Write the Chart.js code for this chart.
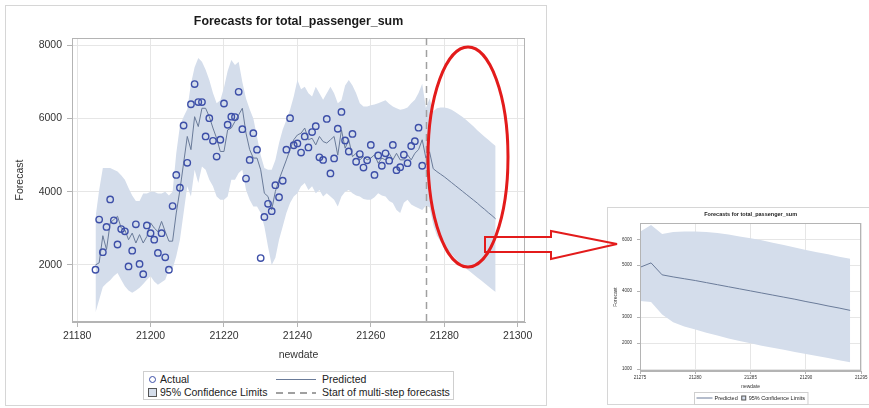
<!DOCTYPE html>
<html>
<head>
<meta charset="utf-8">
<script src="https://cdn.jsdelivr.net/npm/chart.js@4.4.1/dist/chart.umd.min.js"></script>
<style>
  body { margin: 0; background: #fff; width: 869px; height: 408px; position: relative; overflow: hidden; font-family: "Liberation Sans", Arial, sans-serif; }
  .panel { position: absolute; border: 1px solid #d6d6d6; box-sizing: border-box; }
  canvas { position: absolute; }
  .legend { position: absolute; border: 1px solid #cfcfcf; box-sizing: border-box; background: #fff; }
  .legend span { position: absolute; white-space: nowrap; }
  .lt { color: #222; font-size: 10.5px; line-height: 13px; }
  .sym-circle { border-radius: 50%; box-sizing: border-box; border: 1.4px solid #3d4fa8; }
  .sym-square { box-sizing: border-box; border: 1px solid #555; background: #d4ddeb; }
  .sym-line { height: 1px; background: #6a7b99; }
  .sym-dash { height: 1.5px; background: repeating-linear-gradient(to right, #a0a0a0 0 7px, transparent 7px 12px); }
</style>
</head>
<body>
<div class="panel" style="left:5px;top:5px;width:542px;height:401px;"></div>
<div class="panel" style="left:607px;top:207px;width:263px;height:198px;"></div>

<canvas id="mainChart" width="542" height="401" style="left:5px;top:5px;"></canvas>
<canvas id="zoomChart" width="262" height="198" style="left:607px;top:207px;"></canvas>

<div class="legend" style="left:143px;top:371px;width:311px;height:29px;">
  <span class="sym-circle" style="left:5px;top:4px;width:7px;height:7px;"></span>
  <span class="lt" style="left:16px;top:1px;">Actual</span>
  <span class="sym-line" style="left:132px;top:7px;width:40px;"></span>
  <span class="lt" style="left:178px;top:1px;">Predicted</span>
  <span class="sym-square" style="left:4px;top:16px;width:9px;height:9px;"></span>
  <span class="lt" style="left:16px;top:14px;">95% Confidence Limits</span>
  <span class="sym-dash" style="left:132px;top:20px;width:40px;"></span>
  <span class="lt" style="left:178px;top:14px;">Start of multi-step forecasts</span>
</div>

<svg width="869" height="408" style="position:absolute;left:0;top:0;pointer-events:none;">
  <ellipse cx="468" cy="157" rx="40" ry="110" fill="none" stroke="#e31b1b" stroke-width="3"/>
  <polygon points="485,237 551,237 551,231 617,244 551,259 551,252 485,252" fill="none" stroke="#e31b1b" stroke-width="2" stroke-linejoin="miter"/>
</svg>

<script>
// days 21185 .. 21294, forecasts start at 21275
const firstDay = 21185;
const lastDay = 21294;
const forecastStart = 21275;
const days = Array.from({ length: lastDay - firstDay + 1 }, (_, i) => firstDay + i);

// actual values, 21185 .. 21274
const actual = [
  1870, 3240, 2350, 3040, 3790, 3220, 2560, 2980, 2920, 1960,
  2390, 3110, 2030, 1750, 3080, 2870, 2690, 2330, 2870, 2210,
  1870, 3610, 4460, 4110, 5810, 4790, 6390, 6940, 6450, 6450,
  5510, 6010, 5390, 4960, 5420, 6410, 5830, 6050, 6040, 6730,
  5710, 4360, 4870, 5600, 5150, 2190, 3310, 3670, 3470, 4180,
  3850, 4300, 5150, 6010, 5270, 5320, 5070, 5510, 5210, 5630,
  5790, 4940, 4870, 5990, 4500, 4910, 5720, 6180, 5400, 5100,
  5580, 4820, 5030, 4660, 4860, 5280, 4460, 4990, 4710, 5050,
  4850, 5280, 4590, 4670, 5010, 4780, 5250, 5380, 5750, 4710
];

// predicted, 21185 .. 21294
const predicted = [
  2000, 2060, 2800, 2420, 3150, 3240, 3330, 3010, 2960, 2690,
  2870, 2600, 2830, 2600, 2780, 3150, 3010, 2910, 3190, 2910,
  2650, 2650, 3420, 4050, 4780, 5510, 5150, 6050, 5780, 6280,
  6280, 6050, 5740, 5460, 5100, 5100, 5690, 5740, 5920, 6100,
  6280, 5600, 5150, 4920, 4920, 4600, 3960, 3870, 3510, 4010,
  4330, 4600, 4870, 5150, 5420, 5550, 5600, 5740, 5420, 5460,
  5280, 5510, 5370, 5330, 5420, 5510, 5000, 5690, 5190, 5420,
  4960, 5050, 4870, 4960, 4870, 4920, 5010, 4780, 4920, 4870,
  5050, 4870, 5050, 4870, 4870, 5010, 4870, 5050, 5150, 5420,
  4920, 5090, 4630, 4550, 4480, 4410, 4330, 4250, 4170, 4090,
  4010, 3930, 3850, 3770, 3690, 3600, 3520, 3430, 3350, 3260
];

// 95% confidence limits, 21185 .. 21294
const upper = [
  3300, 4050, 4650, 4650, 4650, 4600, 4550, 4450, 4330, 4100,
  3900, 3750, 3750, 3950, 3950, 4000, 4000, 3950, 3950, 4000,
  3900, 4000, 5050, 5800, 6050, 6250, 6950, 7400, 7650, 7550,
  7330, 7050, 6700, 6420, 6500, 6850, 7300, 7600, 7460, 7550,
  7000, 6550, 6250, 6000, 5500, 5000, 4650, 4600, 4600, 4870,
  5330, 5700, 5960, 6240, 6600, 7050, 6800, 6870, 6690, 6600,
  6870, 6690, 6510, 6690, 6870, 6690, 6420, 6500, 6900, 7050,
  6900, 6690, 6420, 6330, 6330, 6360, 6380, 6420, 6460, 6500,
  6400, 6330, 6280, 6240, 6260, 6300, 6420, 6510, 6700, 6950,
  6290, 6550, 6200, 6280, 6300, 6300, 6280, 6240, 6180, 6110,
  6040, 5960, 5870, 5780, 5680, 5590, 5500, 5420, 5330, 5250
];
const lower = [
  700, 1050, 1400, 1500, 1580, 1700, 1780, 1600, 1420, 1300,
  1240, 1300, 1380, 1480, 1600, 1690, 1550, 1460, 1530, 1600,
  1870, 1900, 2240, 2690, 3420, 4150, 3870, 4600, 4240, 4690,
  4600, 4330, 4150, 3870, 3780, 3780, 3870, 4330, 4330, 4510,
  4600, 4050, 3780, 3600, 3600, 3420, 3050, 2500, 2000, 2200,
  2690, 3050, 3420, 3690, 3870, 3960, 4150, 4240, 4050, 4150,
  3960, 4050, 3870, 3960, 3870, 3780, 3600, 3870, 4000, 4050,
  3960, 3900, 3870, 3800, 3780, 3780, 3850, 3960, 3900, 3870,
  3750, 3690, 3500, 3420, 3700, 3780, 3650, 3600, 3550, 3500,
  3620, 3580, 3100, 2800, 2640, 2520, 2400, 2290, 2180, 2080,
  1990, 1900, 1820, 1740, 1660, 1580, 1500, 1420, 1340, 1260
];

// tick labels
const mainXTicks = [21180, 21200, 21220, 21240, 21260, 21280, 21300];
const mainYTicks = [2000, 4000, 6000, 8000];
const zoomXTicks = [21275, 21280, 21285, 21290, 21295];
const zoomYTicks = [1000, 2000, 3000, 4000, 5000, 6000];

const chartTitle = 'Forecasts for total_passenger_sum';
const xTitle = 'newdate';
const yTitle = 'Forecast';

const pointColor = '#3d4fa8';
const lineColor = '#6a7b99';
const bandColor = '#d4ddeb';
const gridColor = '#e6e6e6';
const frameColor = '#b4b4b4';
const textColor = '#333';
const family = '"Liberation Sans", Arial, sans-serif';

const toPts = (xs, ys) => ys.map((y, i) => ({ x: xs[i], y: y }));
const fcIdx = days.indexOf(forecastStart);

const framePlugin = {
    id: 'frame',
    afterDatasetsDraw(chart) {
        const a = chart.chartArea, c = chart.ctx;
        c.save();
        c.strokeStyle = frameColor;
        c.lineWidth = 1;
        c.strokeRect(Math.round(a.left) + 0.5, Math.round(a.top) + 0.5,
            Math.round(a.right - a.left) - 1, Math.round(a.bottom - a.top) - 1);
        c.restore();
    }
};

const titlePlugin = {
    id: 'areaTitle',
    afterDraw(chart, args, opts) {
        const a = chart.chartArea, c = chart.ctx;
        c.save();
        c.font = opts.font;
        c.fillStyle = '#1a1a1a';
        c.textAlign = 'center';
        c.textBaseline = 'middle';
        c.fillText(opts.text, (a.left + a.right) / 2, opts.y);
        c.restore();
    }
};

const startLinePlugin = {
    id: 'startLine',
    afterDatasetsDraw(chart, args, opts) {
        const a = chart.chartArea, c = chart.ctx;
        const x = Math.round(chart.scales.x.getPixelForValue(opts.value)) + 0.5;
        c.save();
        c.strokeStyle = '#a0a0a0';
        c.lineWidth = 1.5;
        c.setLineDash([7, 5]);
        c.beginPath();
        c.moveTo(x, a.top);
        c.lineTo(x, a.bottom);
        c.stroke();
        c.restore();
    }
};

// small boxed legend under the zoomed chart
const smallLegendPlugin = {
    id: 'smallLegend',
    afterDraw(chart, args, opts) {
        const a = chart.chartArea, c = chart.ctx;
        c.save();
        c.font = opts.font;
        c.textBaseline = 'middle';
        const w1 = c.measureText(opts.labels[0]).width;
        const w2 = c.measureText(opts.labels[1]).width;
        const boxW = 2 + 16 + 2 + w1 + 4 + 5 + 2 + w2 + 3;
        const x0 = Math.round((a.left + a.right) / 2 - boxW / 2) + 0.5;
        const y0 = opts.y + 0.5, h = 12, cy = opts.y + 6;
        c.strokeStyle = '#cfcfcf';
        c.lineWidth = 1;
        c.strokeRect(x0, y0, boxW, h);
        let x = x0 + 2;
        c.strokeStyle = lineColor;
        c.beginPath(); c.moveTo(x, cy); c.lineTo(x + 16, cy); c.stroke();
        x += 18;
        c.fillStyle = '#222';
        c.fillText(opts.labels[0], x, cy);
        x += w1 + 4;
        c.fillStyle = bandColor;
        c.fillRect(x, cy - 2, 4, 4);
        c.strokeStyle = '#555';
        c.strokeRect(x, cy - 2, 4, 4);
        x += 7;
        c.fillStyle = '#222';
        c.fillText(opts.labels[1], x, cy);
        c.restore();
    }
};

function makeScales(cfg) {
    return {
        x: {
            type: 'linear',
            min: cfg.xMin,
            max: cfg.xMax,
            afterBuildTicks: s => { s.ticks = cfg.xTicks.map(v => ({ value: v })); },
            afterFit: s => { s.height = cfg.xHeight; },
            ticks: { font: { family, size: cfg.tickSize }, color: textColor, padding: cfg.xTickPad, maxRotation: 0, autoSkip: false, callback: v => String(v) },
            grid: { color: gridColor, tickLength: cfg.tickLen, tickColor: frameColor },
            border: { color: frameColor },
            title: { display: true, text: xTitle, font: { family, size: cfg.titleSize }, color: textColor, padding: { top: 0, bottom: cfg.xTitlePad } }
        },
        y: {
            type: 'linear',
            min: cfg.yMin,
            max: cfg.yMax,
            afterBuildTicks: s => { s.ticks = cfg.yTicks.map(v => ({ value: v })); },
            afterFit: s => { s.width = cfg.yWidth; },
            ticks: { font: { family, size: cfg.tickSize }, color: textColor, padding: cfg.yTickPad, callback: v => String(v) },
            grid: { color: gridColor, tickLength: cfg.tickLen, tickColor: frameColor },
            border: { color: frameColor },
            title: { display: true, text: yTitle, font: { family, size: cfg.titleSize }, color: textColor, padding: { top: cfg.yTitlePad, bottom: 0 } }
        }
    };
}

function bandDatasets(xs, up, lo) {
    return [
        { label: '95% Confidence Limits', data: toPts(xs, up), borderWidth: 0, borderColor: 'rgba(0,0,0,0)', pointRadius: 0, fill: '+1', backgroundColor: bandColor, order: 3 },
        { label: 'lower', data: toPts(xs, lo), borderWidth: 0, borderColor: 'rgba(0,0,0,0)', pointRadius: 0, fill: false, order: 4 }
    ];
}

const common = {
    responsive: false,
    devicePixelRatio: 1,
    animation: false,
    events: []
};

new Chart(document.getElementById('mainChart'), {
    type: 'line',
    data: {
        datasets: [
            { label: 'Actual', data: toPts(days, actual), showLine: false, pointRadius: 3.2, pointBorderWidth: 1.4,
              pointBorderColor: pointColor, pointBackgroundColor: 'rgba(0,0,0,0)', order: 1 },
            { label: 'Predicted', data: toPts(days, predicted), borderColor: lineColor, borderWidth: 1, pointRadius: 0, tension: 0, order: 2 },
            ...bandDatasets(days, upper, lower)
        ]
    },
    options: {
        ...common,
        layout: { padding: { left: 0, right: 22, top: 33, bottom: 39 } },
        scales: makeScales({
            xMin: 21178.6, xMax: 21302, yMin: 443, yMax: 8199,
            xTicks: mainXTicks, yTicks: mainYTicks,
            xHeight: 45, yWidth: 67, tickLen: 5, xTickPad: 3, yTickPad: 5,
            tickSize: 10.5, titleSize: 10.5, xTitlePad: 6, yTitlePad: 9
        }),
        plugins: {
            legend: { display: false },
            tooltip: { enabled: false },
            areaTitle: { text: chartTitle, font: 'bold 12.4px ' + family, y: 17 },
            startLine: { value: forecastStart }
        }
    },
    plugins: [framePlugin, titlePlugin, startLinePlugin]
});

// zoomed view of the multi-step forecasts
const fcDays = days.slice(fcIdx);
new Chart(document.getElementById('zoomChart'), {
    type: 'line',
    data: {
        datasets: [
            { label: 'Predicted', data: toPts(fcDays, predicted.slice(fcIdx)), borderColor: lineColor, borderWidth: 1, pointRadius: 0, tension: 0, order: 2 },
            ...bandDatasets(fcDays, upper.slice(fcIdx), lower.slice(fcIdx))
        ]
    },
    options: {
        ...common,
        layout: { padding: { left: 0, right: 7, top: 16, bottom: 10 } },
        scales: makeScales({
            xMin: 21275, xMax: 21295, yMin: 923, yMax: 6628,
            xTicks: zoomXTicks, yTicks: zoomYTicks,
            xHeight: 24, yWidth: 33, tickLen: 3, xTickPad: 1.5, yTickPad: 5,
            tickSize: 4.5, titleSize: 5, xTitlePad: 5, yTitlePad: 6
        }),
        plugins: {
            legend: { display: false },
            tooltip: { enabled: false },
            areaTitle: { text: chartTitle, font: 'bold 5.5px ' + family, y: 7 },
            smallLegend: { labels: ['Predicted', '95% Confidence Limits'], font: '5.5px ' + family, y: 185 }
        }
    },
    plugins: [framePlugin, titlePlugin, smallLegendPlugin]
});
</script>
</body>
</html>
